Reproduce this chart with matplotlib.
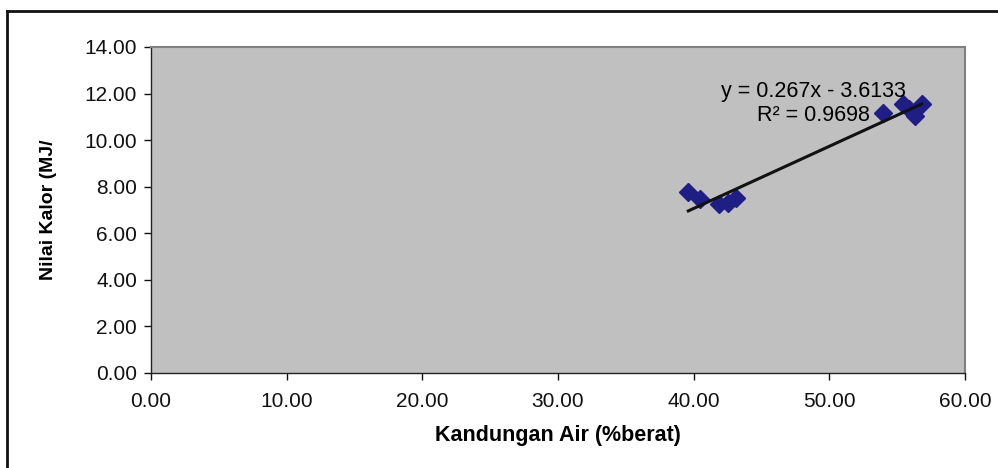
import numpy as np
import matplotlib
matplotlib.use('Agg')
import matplotlib.pyplot as plt
import matplotlib.ticker as ticker

# Data
kadar_air = [39.6, 40.5, 41.9, 42.5, 43.1, 53.95, 55.4, 55.9, 56.3, 56.8]
nilai_kalor = [7.76, 7.46, 7.24, 7.31, 7.53, 11.18, 11.54, 11.32, 11.03, 11.54]
slope = 0.267
intercept = -3.6133
eq_text = "y = 0.267x - 3.6133\nR² = 0.9698"

plt.rcParams['font.family'] = ['Liberation Sans', 'DejaVu Sans']

fig = plt.figure(figsize=(9.98, 4.68), dpi=100)
ax = fig.add_axes([0.1513, 0.203, 0.8157, 0.6966])
ax.set_facecolor('#c0c0c0')

# Scatter and linear trendline
ax.plot(kadar_air, nilai_kalor, linestyle='none', marker='D', markersize=9,
        color='#1e1e85', zorder=3)
xs = np.array([min(kadar_air), max(kadar_air)])
ax.plot(xs, slope * xs + intercept, color='#111111', linewidth=2.2, zorder=4)
ax.text(48.8, 11.57, eq_text, ha='center', va='center', fontsize=15.5,
        linespacing=1.2, zorder=5)

ax.set_xlim(0, 60)
ax.set_ylim(0, 14)
ax.xaxis.set_major_locator(ticker.MultipleLocator(10))
ax.yaxis.set_major_locator(ticker.MultipleLocator(2))
ax.xaxis.set_major_formatter(ticker.FormatStrFormatter('%.2f'))
ax.yaxis.set_major_formatter(ticker.FormatStrFormatter('%.2f'))
ax.tick_params(direction='out', length=5, width=1, labelsize=15, pad=5,
               colors='#111111')
ax.tick_params(axis='x', pad=9)

for side in ['left', 'bottom']:
    ax.spines[side].set_color('#222222')
    ax.spines[side].set_linewidth(1.0)
for side in ['top', 'right']:
    ax.spines[side].set_color('#808080')
    ax.spines[side].set_linewidth(1.5)

ax.set_xlabel("Kandungan Air (%berat)", fontsize=15.5, fontweight='bold', labelpad=10)
ax.set_ylabel("Nilai Kalor (MJ/", fontsize=14, fontweight='bold', labelpad=20)

# Outer chart border (only left and top edges visible)
fig.add_artist(plt.Line2D([0.007, 0.007], [0, 0.977], color='#111111', linewidth=2,
                          transform=fig.transFigure))
fig.add_artist(plt.Line2D([0.007, 1], [0.977, 0.977], color='#111111', linewidth=2,
                          transform=fig.transFigure))

fig.savefig('out.png', dpi=100)
